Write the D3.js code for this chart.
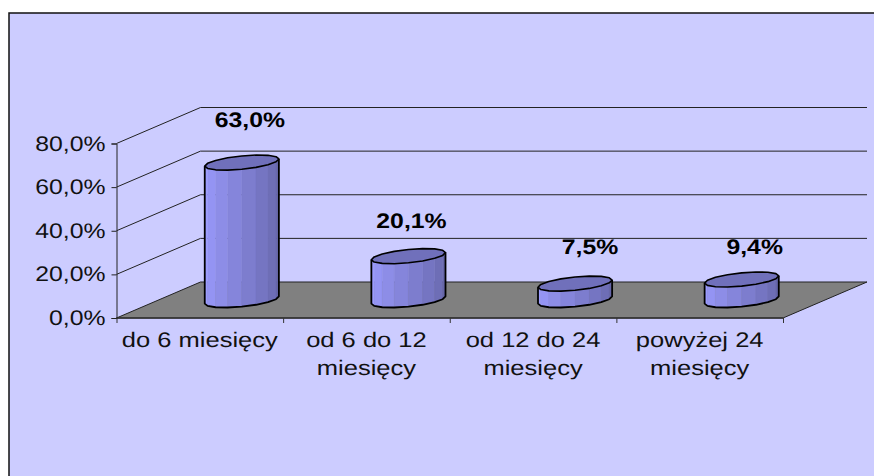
<!DOCTYPE html>
<html>
<head>
    <title>Staz</title>
    <script src="https://d3js.org/d3.v7.min.js"></script>
    <style>
        body { margin: 0; background: #fff; }
        svg { display: block; }
        text { font-family: "Liberation Sans", Arial, sans-serif; font-size: 21px; fill: #111; text-rendering: geometricPrecision; }
        .value { font-weight: bold; fill: #000; }
    </style>
</head>
<body>
    <svg></svg>
    <script>
        // Dane
        const categories = ["do 6 miesięcy", "od 6 do 12 miesięcy", "od 12 do 24 miesięcy", "powyżej 24 miesięcy"];
        const categoryLines = [["do 6 miesięcy"], ["od 6 do 12", "miesięcy"], ["od 12 do 24", "miesięcy"], ["powyżej 24", "miesięcy"]];
        const values = [63.0, 20.1, 7.5, 9.4];
        const valueLabels = ["63,0%", "20,1%", "7,5%", "9,4%"];
        const yTicks = [0, 20, 40, 60, 80];
        const yTickLabels = ["0,0%", "20,0%", "40,0%", "60,0%", "80,0%"];

        // Konfiguracja
        const width = 874, height = 476;
        const stretch = 1.18;               // the picture is stretched sideways
        const catStretch = 1.215;
        const depth = { x: 84, y: -36 };    // front of the floor to back wall
        const barA = 32.6;                  // ellipse half axis along x
        const barDepth = 0.21;              // ellipse half axis, share of the depth
        const facets = 8;
        const labelNudge = [[50, -36], [45, -28], [57, -30], [55, -25.5]];  // labels as Excel placed them

        const svg = d3.select("svg").attr("width", width).attr("height", height);

        const x = d3.scaleBand().domain(d3.range(categories.length)).range([116.5, 783]);
        const y = d3.scaleLinear().domain([0, 80]).range([318, 143.5]);

        // punkt w rzucie: x, y ekranu i glebokosc 0..1
        const project = (px, py, d) => [px + depth.x * d, py + depth.y * d];

        // Tlo
        svg.append("rect").attr("x", 9).attr("y", 13)
            .attr("width", width).attr("height", height)
            .attr("fill", "#ccccff").attr("stroke", "#111").attr("stroke-width", 1.5);

        // Podloga
        const [x0, x1] = x.range();
        svg.append("path")
            .attr("d", d3.line()([project(x0, y(0), 0), project(x1, y(0), 0), project(x1, y(0), 1), project(x0, y(0), 1)]) + "Z")
            .attr("fill", "#808080").attr("stroke", "#222").attr("stroke-width", 1);
        svg.append("line")
            .attr("x1", x0).attr("x2", x1).attr("y1", y(0)).attr("y2", y(0))
            .attr("stroke", "#333").attr("stroke-width", 1.6);

        // Siatka
        const grid = svg.append("g");
        yTicks.filter(t => t > 0).forEach(t => {
            const a = project(x0, y(t), 0), b = project(x0, y(t), 1), c = project(x1, y(t), 1);
            grid.append("path").attr("d", d3.line()([a, b, c]))
                .attr("fill", "none").attr("stroke", "#222").attr("stroke-width", 1);
        });

        // Osie
        const yAxis = svg.append("g").attr("transform", `translate(${x0},0)`)
            .call(d3.axisLeft(y).tickValues(yTicks).tickSize(5).tickFormat(""));
        yAxis.selectAll("path,line").attr("stroke", "#222");
        const xAxis = svg.append("g").attr("transform", `translate(0,${y(0)})`)
            .call(d3.axisBottom(d3.scaleLinear().domain([0, categories.length]).range(x.range()))
                .ticks(categories.length).tickSize(5).tickFormat(""));
        xAxis.select("path").remove();
        xAxis.selectAll("line").attr("stroke", "#333");

        const stretched = (px, py, s) => `translate(${px},${py}) scale(${s},1)`;

        yTicks.forEach((t, i) => {
            svg.append("text").attr("text-anchor", "end")
                .attr("transform", stretched(x0 - 11, y(t) + 7, stretch))
                .text(yTickLabels[i]);
        });

        categoryLines.forEach((lines, i) => {
            lines.forEach((s, k) => {
                svg.append("text").attr("text-anchor", "middle")
                    .attr("transform", stretched(x(i) + x.bandwidth() / 2, 347 + k * 28, catStretch))
                    .text(s);
            });
        });

        // Walce
        const shade = d3.scaleLinear().domain([0, 1]).range(["#9c9cff", "#6666aa"]);
        const tEdge = Math.atan2(barDepth * depth.x, barA);

        values.forEach((v, i) => {
            const cx = x(i) + x.bandwidth() / 2;
            const at = (t, py) => project(cx + barA * Math.cos(t), py, 0.5 + barDepth * Math.sin(t));
            const g = svg.append("g");

            // widoczna strona walca: od lewego do prawego skraju
            const side = py => d3.range(facets + 1).map(k => at(Math.PI + tEdge + (k / facets) * Math.PI, py));
            const lo = side(y(0)), hi = side(y(v));
            const top = d3.range(facets * 2).map(k => at(tEdge + k / facets * Math.PI, y(v)));

            d3.range(facets).forEach(k => {
                const c = shade(k / (facets - 1));
                g.append("path")
                    .attr("d", d3.line()([lo[k], lo[k + 1], hi[k + 1], hi[k]]) + "Z")
                    .attr("fill", c).attr("stroke", c).attr("stroke-width", 0.4);
            });
            g.append("path")
                .attr("d", d3.line()([hi[0], ...lo, hi[facets]]))
                .attr("fill", "none").attr("stroke", "#000").attr("stroke-width", 1.8)
                .attr("stroke-linejoin", "round");
            g.append("path")
                .attr("d", d3.line()(top) + "Z")
                .attr("fill", "#7070bb").attr("stroke", "#000").attr("stroke-width", 1.6)
                .attr("stroke-linejoin", "round");

            // Etykieta wartosci
            const topY = project(cx, y(v), 0.5)[1];
            svg.append("text").attr("class", "value").attr("text-anchor", "middle")
                .attr("transform", stretched(cx + labelNudge[i][0], topY + labelNudge[i][1], stretch))
                .text(valueLabels[i]);
        });
    </script>
</body>
</html>
